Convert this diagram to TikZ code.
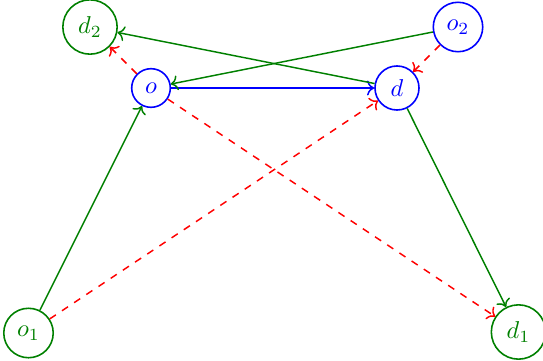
\documentclass[tikz,border=0pt]{standalone}
\usetikzlibrary{arrows.meta}
\definecolor{dgreen}{rgb}{0,0.5,0}
\begin{document}
\begin{tikzpicture}[x=0.41pt,y=-0.41pt,
  gnode/.style={circle,draw=dgreen,text=dgreen,line width=0.65pt},
  bnode/.style={circle,draw=blue,text=blue,line width=0.65pt},
  gedge/.style={->,draw=dgreen,line width=0.6pt},
  bedge/.style={->,draw=blue,line width=0.6pt},
  redge/.style={->,draw=red,dashed,line width=0.6pt}]
\useasboundingbox (0,0) rectangle (543,360);
\node[gnode] (d2) at (90,27) {$d_2$};
\node[bnode] (o) at (151,88) {$o$};
\node[bnode] (d) at (397,88) {$d$};
\node[bnode] (o2) at (458,27) {$o_2$};
\node[gnode] (o1) at (28.5,333) {$o_1$};
\node[gnode] (d1) at (518.5,332) {$d_1$};
\draw[bedge] (o) -- (d);
\draw[gedge] (d) -- (d2);
\draw[gedge] (o2) -- (o);
\draw[gedge] (o1) -- (o);
\draw[gedge] (d) -- (d1);
\draw[redge] (o) -- (d2);
\draw[redge] (o2) -- (d);
\draw[redge] (o1) -- (d);
\draw[redge] (o) -- (d1);
\end{tikzpicture}
\end{document}
